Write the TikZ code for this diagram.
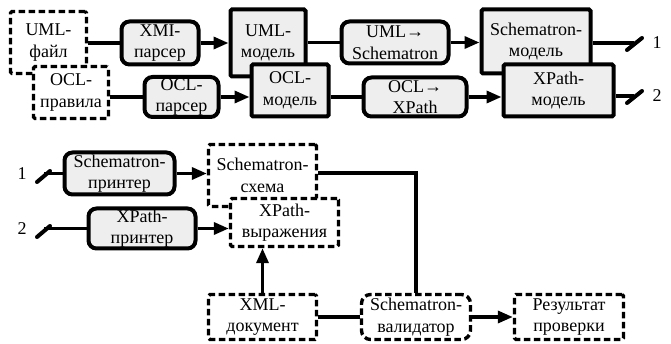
\documentclass[tikz,border=0pt]{standalone}
\usepackage{fontspec}
\setmainfont{Liberation Serif}
\usetikzlibrary{arrows.meta}
\definecolor{boxfill}{HTML}{EEEEEE}
\begin{document}
\begin{tikzpicture}[x=1pt,y=-1pt,
  font=\fontsize{18}{21.5}\selectfont,
  base/.style={draw=black, align=center, inner sep=0pt, line width=3.4pt},
  doc/.style={base, fill=white, dash pattern=on 6.5pt off 3.5pt, rounded corners=1.5pt},
  proc/.style={base, fill=boxfill, line width=4pt, rounded corners=8pt},
  model/.style={base, fill=boxfill, line width=4pt, rounded corners=1.5pt},
  valid/.style={doc, rounded corners=9pt},
  conn/.style={line width=3.4pt},
  arr/.style={conn, -{Triangle[length=15pt,width=12pt]}},
  tick/.style={line width=4pt, line cap=round}]
\useasboundingbox (0,0) rectangle (671,344);

% ---- upper chain: UML/OCL to models ----
\node[doc, minimum width=76pt, minimum height=62pt] (umlf) at (48.5,42.5) {UML-\\файл};
\node[doc, minimum width=75pt, minimum height=52pt] (oclr) at (71,92.5) {OCL-\\правила};
\node[proc, minimum width=77pt, minimum height=43pt] (xmi) at (160,43) {XMI-\\парсер};
\node[model, minimum width=75pt, minimum height=67pt] (umlm) at (268,43) {UML-\\модель};
\node[proc, minimum width=74pt, minimum height=40pt] (oclp) at (181.5,97) {OCL-\\парсер};
\node[model, minimum width=77pt, minimum height=52pt] (oclm) at (290,90.5) {OCL-\\модель};
\node[proc, minimum width=107pt, minimum height=42pt] (u2s) at (395,42.5) {UML→\\Schematron};
\node[model, minimum width=109pt, minimum height=64pt] (schm) at (536,41.5) {Schematron-\\модель};
\node[proc, minimum width=103pt, minimum height=39pt] (o2x) at (415,97) {OCL→\\XPath};
\node[model, minimum width=110pt, minimum height=52pt] (xpm) at (558.5,90.5) {XPath-\\модель};

\draw[conn] (umlf.east |- xmi.west) -- (xmi.west);
\draw[arr] (xmi.east) -- (xmi.east -| umlm.west);
\draw[conn] (umlm.east |- u2s.west) -- (u2s.west);
\draw[arr] (u2s.east) -- (u2s.east -| schm.west);
\draw[conn] (oclr.east |- oclp.west) -- (oclp.west);
\draw[arr] (oclp.east) -- (oclp.east -| oclm.west);
\draw[conn] (oclm.east |- o2x.west) -- (o2x.west);
\draw[arr] (o2x.east) -- (o2x.east -| xpm.west);

% outgoing links 1 and 2
\coordinate (out1) at (634,43);
\coordinate (out2) at (634,96);
\draw[conn] (schm.east |- out1) -- (out1);
\draw[conn] (xpm.east |- out2) -- (out2);
\draw[tick] (627,50) -- (642,38);
\draw[tick] (627,103) -- (642,91);
\node (lab1) at (657,43) {1};
\node (lab2) at (657,96) {2};

% ---- lower chain: printers and validation ----
\node[proc, minimum width=110pt, minimum height=42pt] (sp) at (119.5,173.5) {Schematron-\\принтер};
\node[doc, minimum width=108pt, minimum height=62pt] (ss) at (262.5,175.5) {Schematron-\\схема};
\node[doc, minimum width=108pt, minimum height=48pt] (xe) at (284.5,222.5) {XPath-\\выражения};
\node[proc, minimum width=107pt, minimum height=40pt] (xp) at (142,228.5) {XPath-\\принтер};
\node[doc, minimum width=108pt, minimum height=45pt] (xd) at (262.5,317) {XML-\\документ};
\node[valid, minimum width=109pt, minimum height=45pt] (sv) at (416,317) {Schematron-\\валидатор};
\node[doc, minimum width=109pt, minimum height=45pt] (rp) at (569,317) {Результат\\проверки};

% incoming links 1 and 2
\node (lab3) at (22,174) {1};
\node (lab4) at (22,229) {2};
\coordinate (in1) at (44,173.5);
\coordinate (in2) at (44,228.5);
\draw[conn] (in1) -- (sp.west);
\draw[conn] (in2) -- (xp.west);
\draw[tick] (37,182) -- (50,171);
\draw[tick] (37,237) -- (50,226);

\draw[arr] (sp.east) -- (sp.east -| ss.west);
\draw[arr] (xp.east) -- (xp.east -| xe.west);
\draw[arr] (xd.north) -- (xd.north |- xe.south);
\draw[conn] (ss.east |- 0,173) -| (sv.north);
\draw[conn] (xd.east) -- (sv.west);
\draw[arr] (sv.east) -- (rp.west);
\end{tikzpicture}
\end{document}
